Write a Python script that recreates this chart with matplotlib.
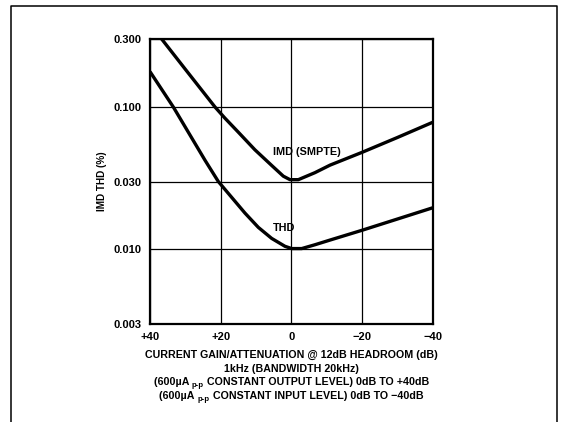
import numpy as np
import matplotlib
matplotlib.use("Agg")
import matplotlib.pyplot as plt
from matplotlib.lines import Line2D

plt.rcParams["font.family"] = ["Liberation Sans", "DejaVu Sans"]
plt.rcParams["font.weight"] = "bold"
plt.rcParams["axes.labelweight"] = "bold"

# ---------------------------------------------------------------------------
# Data
# ---------------------------------------------------------------------------

imd_gain = [36.7, 30, 21.6, 18.8, 15.0, 10.3, 5.5, 2.25, 0.35, -2.0,
            -6.7, -11.0, -20, -30, -40]
imd_vals = [0.300, 0.184, 0.100, 0.0836, 0.0666, 0.0501, 0.0388, 0.0327,
            0.0309, 0.0309, 0.0346, 0.0391, 0.048, 0.061, 0.078]

thd_gain = [40, 33.4, 24.4, 20.66, 16.86, 13.1, 9.33, 5.54, 1.78, -0.13,
            -2.96, -6.73, -11.0, -20, -30, -40]
thd_vals = [0.177, 0.100, 0.0422, 0.030, 0.0232, 0.0180, 0.0143, 0.01196,
            0.01053, 0.01015, 0.01015, 0.0108, 0.01165, 0.01363, 0.01634,
            0.0196]

x_ticks = [40, 20, 0, -20, -40]
x_labels = ["+40", "+20", "0", "\u221220", "\u221240"]
y_ticks = [0.003, 0.010, 0.030, 0.100, 0.300]
y_labels = ["0.003", "0.010", "0.030", "0.100", "0.300"]

# caption lines as (text, subscript, text) pieces
caption_lines = [
    ("CURRENT GAIN/ATTENUATION @ 12dB HEADROOM (dB)", "", ""),
    ("1kHz (BANDWIDTH 20kHz)", "", ""),
    ("(600\u00b5A ", "p-p", " CONSTANT OUTPUT LEVEL) 0dB TO +40dB"),
    ("(600\u00b5A ", "p-p", " CONSTANT INPUT LEVEL) 0dB TO \u221240dB"),
]

# ---------------------------------------------------------------------------
# Figure
# ---------------------------------------------------------------------------

W, H = 562, 422
fig = plt.figure(figsize=(W / 100, H / 100), dpi=100)
ax = fig.add_axes([150 / W, 1 - 324 / H, 282.5 / W, 285 / H])

ax.plot(imd_gain, imd_vals, color="black", linewidth=2.4,
        solid_joinstyle="round", solid_capstyle="butt")
ax.plot(thd_gain, thd_vals, color="black", linewidth=2.4,
        solid_joinstyle="round", solid_capstyle="butt")

ax.set_yscale("log")
ax.set_xlim(40, -40)
ax.set_ylim(0.003, 0.300)
ax.set_xticks(x_ticks)
ax.set_xticklabels(x_labels)
ax.set_yticks(y_ticks)
ax.set_yticklabels(y_labels)
ax.minorticks_off()
ax.tick_params(length=0, labelsize=8, pad=6)
ax.grid(True, color="black", linewidth=0.9)
ax.set_axisbelow(True)
for s in ax.spines.values():
    s.set_linewidth(1.6)

ax.set_ylabel("IMD THD (%)", fontsize=7.2, labelpad=5)

ax.text(5.2, 0.048, "IMD (SMPTE)", fontsize=7.8, ha="left", va="center")
ax.text(5.2, 0.0141, "THD", fontsize=7.8, ha="left", va="center")

# multi-line caption under the x axis; subscripts placed as separate texts
renderer = fig.canvas.get_renderer()
cx = (150 + 432.5) / 2
for i, (pre, sub, post) in enumerate(caption_lines):
    yc = 1 - (355 + i * 13.7) / H
    t_pre = fig.text(0, yc, pre, fontsize=7.7, ha="left", va="center")
    t_sub = fig.text(0, yc - 3 / H, sub, fontsize=5.6, ha="left", va="center")
    t_post = fig.text(0, yc, post, fontsize=7.7, ha="left", va="center")
    widths = [t.get_window_extent(renderer).width if t.get_text() else 0
              for t in (t_pre, t_sub, t_post)]
    x = cx - sum(widths) / 2
    for t, w in zip((t_pre, t_sub, t_post), widths):
        t.set_x(x / W)
        x += w

# page frame (open at the bottom)
fx0, fx1, fy = 11 / W, 557 / W, 1 - 6 / H
fig.add_artist(Line2D([fx0, fx0, fx1, fx1], [0, fy, fy, 0],
                      color="black", linewidth=1.1, transform=fig.transFigure))

fig.savefig("out.png", dpi=100)
